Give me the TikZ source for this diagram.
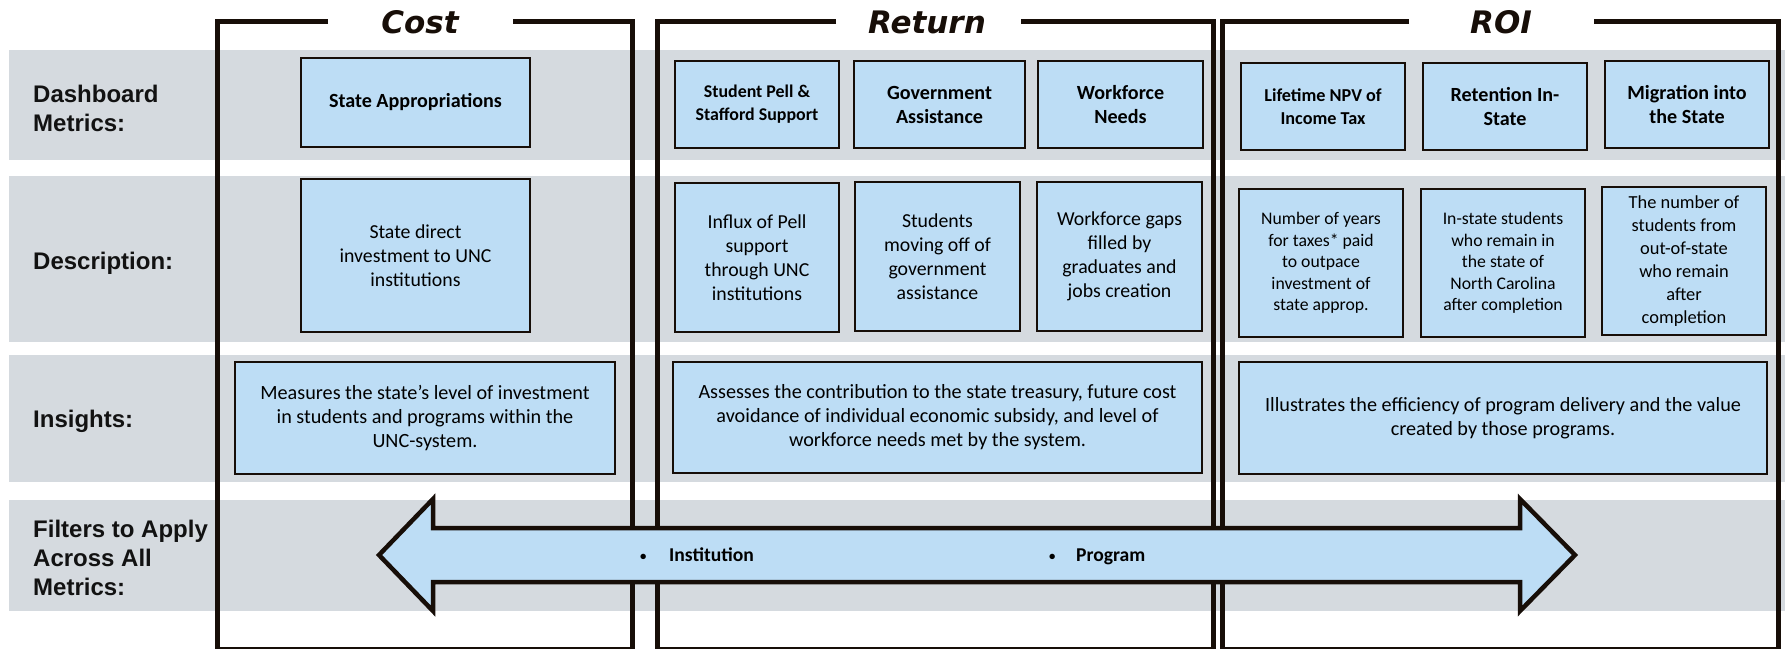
\documentclass[tikz,border=0pt]{standalone}
\usepackage{fontspec}
\usepackage{graphicx}
\setmainfont{Carlito}
\newfontfamily\labfont{Liberation Sans}
\newfontfamily\ttlfont[BoldItalicFont={DejaVu Sans Bold Oblique}]{DejaVu Sans}
\definecolor{bandc}{HTML}{D5DADF}
\definecolor{boxc}{HTML}{BDDDF5}
\definecolor{linec}{HTML}{170E08}
\tikzset{
  band/.style={fill=bandc},
  bracket/.style={draw=linec, line width=5pt, line join=miter},
  mbox/.style={draw=linec, line width=1.8pt, fill=boxc, inner sep=0pt, align=center, text=black},
  bt/.style={font=\fontsize{20.1}{24}\selectfont\bfseries},
  bts/.style={font=\fontsize{17.9}{23}\selectfont\bfseries},
  dt/.style={font=\fontsize{19.8}{24}\selectfont},
  dts/.style={font=\fontsize{17.7}{21.5}\selectfont},
  it/.style={font=\fontsize{20.2}{24}\selectfont},
  lab/.style={font=\fontsize{24}{29}\selectfont\labfont\bfseries, anchor=west, align=left, inner sep=0pt, text=black!93},
  ttl/.style={font=\fontsize{31}{36}\selectfont\ttlfont\bfseries\itshape, anchor=base, inner sep=0pt, text=linec},
  arrowshape/.style={draw=linec, line width=4.5pt, fill=boxc, line join=miter},
  filt/.style={font=\fontsize{19.6}{24}\selectfont\bfseries, anchor=base west, inner sep=0pt}
}
\begin{document}
\begin{tikzpicture}[x=1pt,y=-1pt]
\useasboundingbox (0,0) rectangle (1785,648);
\fill[white] (0,0) rectangle (1785,648);
% bands
\fill[band] (9,50) rectangle (1785,160);
\fill[band] (9,176) rectangle (1785,342);
\fill[band] (9,355) rectangle (1785,482);
\fill[band] (9,500) rectangle (1785,611);
% brackets
\draw[bracket] (328,21) -- (217,21) -- (217,649.5) -- (632,649.5) -- (632,21) -- (513,21);
\draw[bracket] (836,21) -- (657,21) -- (657,649.5) -- (1213,649.5) -- (1213,21) -- (1021,21);
\draw[bracket] (1409,21) -- (1222,21) -- (1222,649.5) -- (1778,649.5) -- (1778,21) -- (1594,21);
% titles
\node[ttl] (tcost) at (420,33) {Cost};
\node[ttl] (tret) at (927,33) {Return};
\node[ttl] (troi) at (1501,33) {ROI};
% row labels
\node[lab] (l1) at (33,108.5) {Dashboard\\Metrics:};
\node[lab] (l2) at (33,263) {Description:};
\node[lab] (l3) at (33,421) {Insights:};
\node[lab] (l4) at (33,558) {Filters to Apply\\Across All\\Metrics:};
% Cost boxes
\node[mbox, bt, minimum width=229pt, minimum height=89pt] (sa) at (415.5,102.5) {State Appropriations};
\node[mbox, dt, minimum width=229pt, minimum height=153pt] (cdesc) at (415.5,255.5) {State direct\\investment to UNC\\institutions};
\node[mbox, it, minimum width=380pt, minimum height=112pt] (cins) at (425,418) {Measures the state’s level of investment\\in students and programs within the\\UNC-system.};
% Return boxes
\node[mbox, bts, minimum width=164pt, minimum height=87pt] (r1a) at (757,104.5) {Student Pell \&\\Stafford Support};
\node[mbox, bt, minimum width=171pt, minimum height=87pt] (r1b) at (939.5,104.5) {Government\\Assistance};
\node[mbox, bt, minimum width=165pt, minimum height=87pt] (r1c) at (1120.5,104.5) {Workforce\\Needs};
\node[mbox, dt, minimum width=164pt, minimum height=149pt] (r2a) at (757,257.5) {Influx of Pell\\support\\through UNC\\institutions};
\node[mbox, dt, minimum width=165pt, minimum height=149pt] (r2b) at (937.5,256.5) {Students\\moving off of\\government\\assistance};
\node[mbox, dt, minimum width=165pt, minimum height=149pt] (r2c) at (1119.5,256.5) {Workforce gaps\\filled by\\graduates and\\jobs creation};
\node[mbox, it, minimum width=529pt, minimum height=111pt] (rins) at (937.5,417.5) {Assesses the contribution to the state treasury, future cost\\avoidance of individual economic subsidy, and level of\\workforce needs met by the system.};
% ROI boxes
\node[mbox, font=\fontsize{18.2}{23}\selectfont\bfseries, minimum width=164pt, minimum height=87pt] (o1a) at (1323,106.5) {Lifetime NPV of\\Income Tax};
\node[mbox, bt, minimum width=164pt, minimum height=87pt] (o1b) at (1505,106.5) {Retention In-\\State};
\node[mbox, bt, minimum width=164pt, minimum height=87pt] (o1c) at (1687,104.5) {Migration into\\the State};
\node[mbox, dts, minimum width=164pt, minimum height=148pt] (o2a) at (1321,263) {Number of years\\for taxes* paid\\to outpace\\investment of\\state approp.};
\node[mbox, dts, minimum width=164pt, minimum height=148pt] (o2b) at (1503,263) {In-state students\\who remain in\\the state of\\North Carolina\\after completion};
\node[mbox, font=\fontsize{18.4}{23}\selectfont, minimum width=164pt, minimum height=148pt] (o2c) at (1684,261) {The number of\\students from\\out-of-state\\who remain\\after\\completion};
\node[mbox, it, minimum width=528pt, minimum height=112pt] (oins) at (1503,418) {Illustrates the efficiency of program delivery and the value\\created by those programs.};
% filter arrow
\draw[arrowshape] (379,555) -- (433,499) -- (433,528) -- (1520,528) -- (1520,499) -- (1575,555) -- (1520,611) -- (1520,582) -- (433,582) -- (433,611) -- cycle;
\node[filt] (finst) at (640,561.5) {\makebox[29pt][l]{\raisebox{1.5pt}{\scalebox{0.65}{\textbullet}}}Institution};
\node[filt] (fprog) at (1049,561.5) {\makebox[27pt][l]{\raisebox{1.5pt}{\scalebox{0.65}{\textbullet}}}Program};
\end{tikzpicture}
\end{document}
